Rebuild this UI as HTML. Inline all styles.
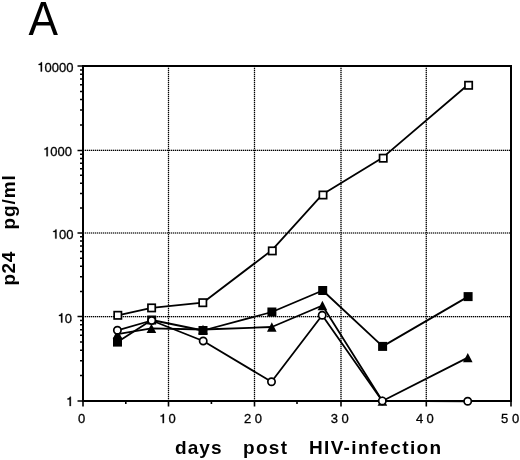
<!DOCTYPE html><html><head><meta charset="utf-8"><style>html,body{margin:0;padding:0;background:#fff;width:520px;height:460px;overflow:hidden}svg{display:block;filter:grayscale(1) blur(0.3px)}text{font-family:"Liberation Sans",sans-serif;fill:#000}.tl{stroke:#000;stroke-width:0.3px}</style></head><body><svg width="520" height="460" viewBox="0 0 520 460"><path d="M168.5 66V401M254.5 66V401M341.0 66V401M426.3 66V401M83 150.4H511M83 233.0H511M83 316.6H511" stroke="#aaa" stroke-width="1.2" fill="none"/><path d="M168.5 66V401M254.5 66V401M341.0 66V401M426.3 66V401M83 150.4H511M83 233.0H511M83 316.6H511" stroke="#000" stroke-width="1.2" stroke-dasharray="1 1" fill="none"/><path d="M83.0 401V406.5M168.5 401V406.5M254.5 401V406.5M341.0 401V406.5M426.3 401V406.5M511.0 401V406.5M125.8 401V404M211.4 401V404M297.0 401V404M382.6 401V404M468.2 401V404" stroke="#000" stroke-width="1.6" fill="none"/><path d="M77.5 401.0H83M77.5 316.6H83M77.5 233.0H83M77.5 150.4H83M77.5 66.0H83M80 375.6H83M80 360.7H83M80 350.2H83M80 342.0H83M80 335.3H83M80 329.7H83M80 324.8H83M80 320.5H83M80 291.4H83M80 276.7H83M80 266.3H83M80 258.2H83M80 251.5H83M80 245.9H83M80 241.1H83M80 236.8H83M80 208.1H83M80 193.6H83M80 183.3H83M80 175.3H83M80 168.7H83M80 163.2H83M80 158.4H83M80 154.2H83M80 125.0H83M80 110.1H83M80 99.6H83M80 91.4H83M80 84.7H83M80 79.1H83M80 74.2H83M80 69.9H83" stroke="#000" stroke-width="1.5" fill="none"/><rect x="83" y="66" width="428" height="335" fill="none" stroke="#000" stroke-width="2"/><path d="M117.8 315.3 L151.6 307.9 L202.8 302.7 L272.0 250.1 L322.7 194.2 L382.9 157.39999999999998 L468.3 84.5" stroke="#000" stroke-width="1.8" fill="none" stroke-linejoin="round"/><path d="M117.5 342.1 L151.7 320 L203 330.5 L271.9 312 L322.7 290.5 L382.6 346.4 L468.1 296.6" stroke="#000" stroke-width="1.8" fill="none" stroke-linejoin="round"/><path d="M117.5 334.2 L151.4 328.3 L203 329.5 L271.8 327 L322.4 305.5 L382.4 401 L467.8 357.6" stroke="#000" stroke-width="1.8" fill="none" stroke-linejoin="round"/><path d="M117.4 330.3 L151.7 320.5 L203.2 341 L271.5 381.8 L322.2 315.3 L382.3 400.9 L467.7 401.3" stroke="#000" stroke-width="1.8" fill="none" stroke-linejoin="round"/><path d="M117.50 329.55L122.30 338.85L112.70 338.85Z" fill="#000"/><path d="M151.40 323.65L156.20 332.95L146.60 332.95Z" fill="#000"/><path d="M203.00 324.85L207.80 334.15L198.20 334.15Z" fill="#000"/><path d="M271.80 322.35L276.60 331.65L267.00 331.65Z" fill="#000"/><path d="M322.40 300.85L327.20 310.15L317.60 310.15Z" fill="#000"/><path d="M382.40 396.35L387.20 405.65L377.60 405.65Z" fill="#000"/><path d="M467.80 352.95L472.60 362.25L463.00 362.25Z" fill="#000"/><rect x="113.00" y="337.60" width="9.0" height="9.0" fill="#000"/><rect x="147.20" y="315.50" width="9.0" height="9.0" fill="#000"/><rect x="198.50" y="326.00" width="9.0" height="9.0" fill="#000"/><rect x="267.40" y="307.50" width="9.0" height="9.0" fill="#000"/><rect x="318.20" y="286.00" width="9.0" height="9.0" fill="#000"/><rect x="378.10" y="341.90" width="9.0" height="9.0" fill="#000"/><rect x="463.60" y="292.10" width="9.0" height="9.0" fill="#000"/><rect x="114.15" y="311.65" width="7.30" height="7.30" fill="#fff" stroke="#000" stroke-width="1.7"/><rect x="147.95" y="304.25" width="7.30" height="7.30" fill="#fff" stroke="#000" stroke-width="1.7"/><rect x="199.15" y="299.05" width="7.30" height="7.30" fill="#fff" stroke="#000" stroke-width="1.7"/><rect x="268.65" y="247.25" width="7.30" height="7.30" fill="#fff" stroke="#000" stroke-width="1.7"/><rect x="319.35" y="191.35" width="7.30" height="7.30" fill="#fff" stroke="#000" stroke-width="1.7"/><rect x="379.55" y="154.55" width="7.30" height="7.30" fill="#fff" stroke="#000" stroke-width="1.7"/><rect x="464.95" y="81.65" width="7.30" height="7.30" fill="#fff" stroke="#000" stroke-width="1.7"/><circle cx="117.4" cy="330.3" r="3.65" fill="#fff" stroke="#000" stroke-width="1.7"/><circle cx="151.7" cy="320.5" r="3.65" fill="#fff" stroke="#000" stroke-width="1.7"/><circle cx="203.2" cy="341" r="3.65" fill="#fff" stroke="#000" stroke-width="1.7"/><circle cx="271.5" cy="381.8" r="3.65" fill="#fff" stroke="#000" stroke-width="1.7"/><circle cx="322.2" cy="315.3" r="3.65" fill="#fff" stroke="#000" stroke-width="1.7"/><circle cx="382.3" cy="400.9" r="3.65" fill="#fff" stroke="#000" stroke-width="1.7"/><circle cx="467.7" cy="401.3" r="3.65" fill="#fff" stroke="#000" stroke-width="1.7"/><text x="64.87" y="322.5" font-size="13" class="tl">0</text><text x="59.04" y="238.6" font-size="13" class="tl">00</text><text x="50.32" y="156.2" font-size="13" class="tl">000</text><text x="44.54" y="71.5" font-size="13" class="tl">0000</text><text x="81.65" y="423.1" font-size="13" text-anchor="middle" class="tl">0</text><text x="172.05" y="423.1" font-size="13" text-anchor="middle" class="tl">0</text><text x="247.6" y="423.1" font-size="13" text-anchor="middle" class="tl">2</text><text x="258.45" y="423.1" font-size="13" text-anchor="middle" class="tl">0</text><text x="334.3" y="423.1" font-size="13" text-anchor="middle" class="tl">3</text><text x="345.2" y="423.1" font-size="13" text-anchor="middle" class="tl">0</text><text x="419.5" y="423.1" font-size="13" text-anchor="middle" class="tl">4</text><text x="430.2" y="423.1" font-size="13" text-anchor="middle" class="tl">0</text><text x="504.65" y="423.1" font-size="13" text-anchor="middle" class="tl">5</text><text x="515.5" y="423.1" font-size="13" text-anchor="middle" class="tl">0</text><path d="M70.88 406.00L70.88 396.78L69.85 396.78C69.51 397.99 68.95 398.42 67.47 398.55L67.47 399.41L69.58 399.41L69.58 406.00ZM62.35 322.50L62.35 313.28L61.32 313.28C60.98 314.49 60.43 314.92 58.94 315.05L58.94 315.91L61.05 315.91L61.05 322.50ZM56.52 238.60L56.52 229.38L55.50 229.38C55.16 230.59 54.60 231.02 53.12 231.15L53.12 232.01L55.22 232.01L55.22 238.60ZM47.79 156.20L47.79 146.98L46.77 146.98C46.43 148.19 45.87 148.62 44.39 148.75L44.39 149.61L46.49 149.61L46.49 156.20ZM42.02 71.50L42.02 62.28L40.99 62.28C40.65 63.49 40.09 63.92 38.61 64.05L38.61 64.91L40.72 64.91L40.72 71.50ZM163.95 423.10L163.95 413.88L162.93 413.88C162.59 415.09 162.03 415.52 160.55 415.65L160.55 416.51L162.65 416.51L162.65 423.10Z" fill="#000" stroke="#000" stroke-width="0.3"/><text transform="translate(28.4,34.7) scale(0.93,1)" x="0" y="0" font-size="47.6">A</text><text y="454.2" font-size="19" font-weight="bold" letter-spacing="1.1"><tspan x="175">days</tspan><tspan x="243" letter-spacing="1.3">post</tspan></text><text y="454.2" x="309" font-size="19" font-weight="bold" letter-spacing="1.33">HIV-infection</text><g transform="translate(15.3,0) rotate(-90)"><text font-size="19" font-weight="bold" letter-spacing="0.6"><tspan x="-285.6" y="0">p24</tspan><tspan x="-229.4" y="0" letter-spacing="0.85">pg/ml</tspan></text></g></svg></body></html>
